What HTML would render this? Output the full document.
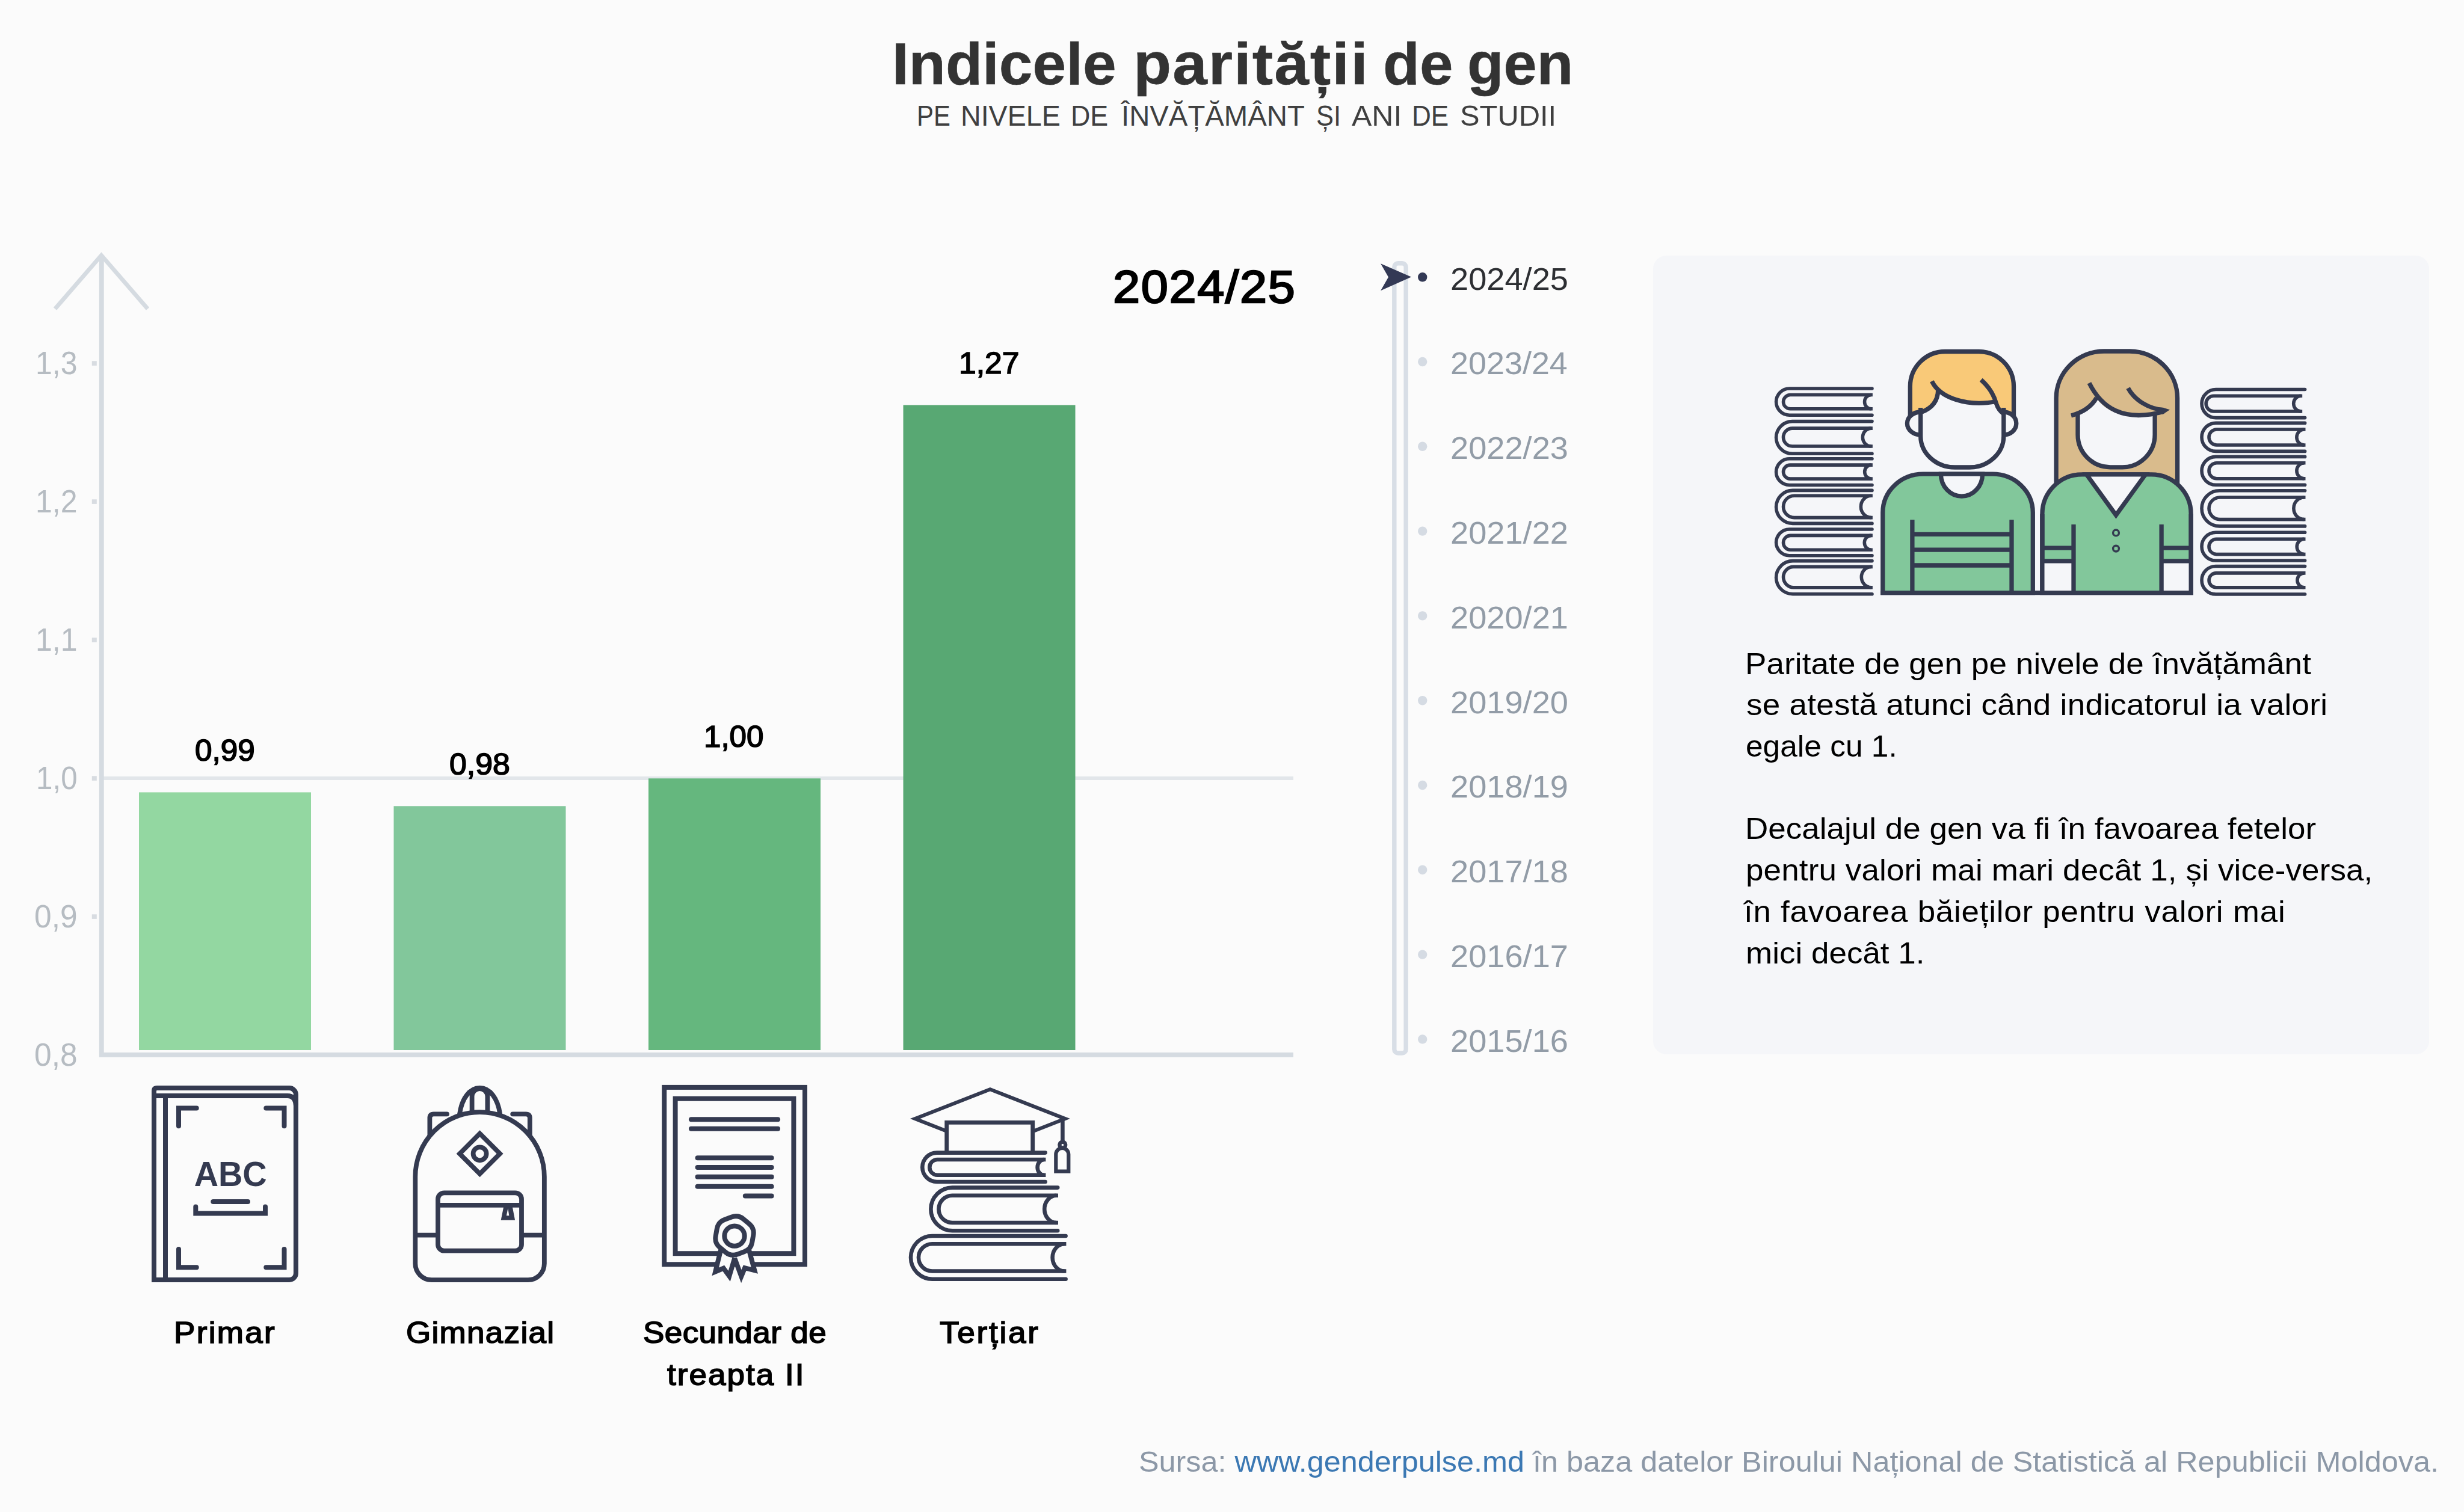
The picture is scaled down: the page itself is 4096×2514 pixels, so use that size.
<!DOCTYPE html>
<html lang="ro"><head><meta charset="utf-8">
<title>Indicele parității de gen</title>
<style>
html,body{margin:0;padding:0}
body{width:4096px;height:2514px;background:#fbfbfb;position:relative;overflow:hidden;font-family:"Liberation Sans",sans-serif;color:#000}
.abs{position:absolute;display:block}
.t{position:absolute;white-space:nowrap;margin:0;padding:0;font-weight:normal;display:block}
.grp{position:absolute;left:0;top:0;margin:0;padding:0;font-size:0;font-weight:normal;list-style:none}
.panel{position:absolute;left:2748px;top:425px;width:1290px;height:1328px;border-radius:22px;background:#f5f6f9}
a{color:inherit;text-decoration:none}
</style></head><body>
<div class="panel"></div>
<svg class="abs" style="left:0;top:0" width="4096" height="2514" viewBox="0 0 4096 2514">
<rect x="168" y="1291" width="1982" height="6" fill="#e2e6ea"/>
<rect x="231" y="1317.4" width="286" height="428.6" fill="#93d7a1"/>
<rect x="654.5" y="1340.3" width="286" height="405.7" fill="#82c79b"/>
<rect x="1078" y="1294.3" width="286" height="451.7" fill="#65b77e"/>
<rect x="1501.5" y="673.5" width="286" height="1072.5" fill="#58a873"/>
<path d="M168.8 424 V1753.9 H2150" fill="none" stroke="#d5dbe1" stroke-width="7.8"/>
<path d="M91.5 513.5 L168.5 424.5 L245.5 513.5" fill="none" stroke="#d5dbe1" stroke-width="7" stroke-linejoin="miter"/>
<rect x="152.8" y="1520.3" width="8" height="7.6" fill="#d8dce1"/>
<rect x="152.8" y="1290.3" width="8" height="7.6" fill="#d8dce1"/>
<rect x="152.8" y="1060.3" width="8" height="7.6" fill="#d8dce1"/>
<rect x="152.8" y="830.3" width="8" height="7.6" fill="#d8dce1"/>
<rect x="152.8" y="600.3" width="8" height="7.6" fill="#d8dce1"/>
<rect x="2317.8" y="437.7" width="19.3" height="1313.3" rx="6.2" fill="none" stroke="#d8dee6" stroke-width="7.4"/>
<path d="M2295.1 438.3 L2346.1 460.6 L2295.1 483.2 L2308 460.7 Z" fill="#333955"/>
<circle cx="2364.7" cy="460.7" r="7.7" fill="#333955"/>
<circle cx="2364.7" cy="601.5" r="7.7" fill="#d5dbe3"/>
<circle cx="2364.7" cy="742.3" r="7.7" fill="#d5dbe3"/>
<circle cx="2364.7" cy="883.1" r="7.7" fill="#d5dbe3"/>
<circle cx="2364.7" cy="1023.9" r="7.7" fill="#d5dbe3"/>
<circle cx="2364.7" cy="1164.7" r="7.7" fill="#d5dbe3"/>
<circle cx="2364.7" cy="1305.5" r="7.7" fill="#d5dbe3"/>
<circle cx="2364.7" cy="1446.3" r="7.7" fill="#d5dbe3"/>
<circle cx="2364.7" cy="1587.1" r="7.7" fill="#d5dbe3"/>
<circle cx="2364.7" cy="1727.9" r="7.7" fill="#d5dbe3"/>
</svg>
<svg class="abs" style="left:2900px;top:560px" width="1000" height="450" viewBox="2900 560 1000 450">
<path d="M3112 646.00 H2974.70 A22.100 22.100 0 0 0 2974.70 690.20 H3112" fill="none" stroke="#343a50" stroke-width="5.6" stroke-linecap="round"/>
<path d="M3112.9 656.50 H2976.15 A11.650 11.650 0 0 0 2976.15 679.80 H3112.9" fill="none" stroke="#343a50" stroke-width="5.6"/>
<path d="M3110.60 656.50 A11.067 11.650 0 0 0 3110.60 679.80" fill="none" stroke="#343a50" stroke-width="5.6"/>
<path d="M3112 700.60 H2979.45 A26.850 26.850 0 0 0 2979.45 754.30 H3112" fill="none" stroke="#343a50" stroke-width="5.6" stroke-linecap="round"/>
<path d="M3112.9 712.10 H2979.45 A14.950 14.950 0 0 0 2979.45 742.00 H3112.9" fill="none" stroke="#343a50" stroke-width="5.6"/>
<path d="M3110.60 712.10 A14.202 14.950 0 0 0 3110.60 742.00" fill="none" stroke="#343a50" stroke-width="5.6"/>
<path d="M3112 762.80 H2974.45 A21.850 21.850 0 0 0 2974.45 806.50 H3112" fill="none" stroke="#343a50" stroke-width="5.6" stroke-linecap="round"/>
<path d="M3112.9 773.10 H2976.00 A11.500 11.500 0 0 0 2976.00 796.10 H3112.9" fill="none" stroke="#343a50" stroke-width="5.6"/>
<path d="M3110.60 773.10 A10.925 11.500 0 0 0 3110.60 796.10" fill="none" stroke="#343a50" stroke-width="5.6"/>
<path d="M3112 815.40 H2980.10 A27.500 27.500 0 0 0 2980.10 870.40 H3112" fill="none" stroke="#343a50" stroke-width="5.6" stroke-linecap="round"/>
<path d="M3112.9 824.30 H2982.65 A18.150 18.150 0 0 0 2982.65 860.60 H3112.9" fill="none" stroke="#343a50" stroke-width="5.6"/>
<path d="M3110.60 824.30 A17.243 18.150 0 0 0 3110.60 860.60" fill="none" stroke="#343a50" stroke-width="5.6"/>
<path d="M3112 880.00 H2974.45 A21.850 21.850 0 0 0 2974.45 923.70 H3112" fill="none" stroke="#343a50" stroke-width="5.6" stroke-linecap="round"/>
<path d="M3112.9 890.40 H2976.40 A11.900 11.900 0 0 0 2976.40 914.20 H3112.9" fill="none" stroke="#343a50" stroke-width="5.6"/>
<path d="M3110.60 890.40 A11.305 11.900 0 0 0 3110.60 914.20" fill="none" stroke="#343a50" stroke-width="5.6"/>
<path d="M3112 932.60 H2980.15 A27.550 27.550 0 0 0 2980.15 987.70 H3112" fill="none" stroke="#343a50" stroke-width="5.6" stroke-linecap="round"/>
<path d="M3112.9 942.40 H2981.65 A17.150 17.150 0 0 0 2981.65 976.70 H3112.9" fill="none" stroke="#343a50" stroke-width="5.6"/>
<path d="M3110.60 942.40 A16.293 17.150 0 0 0 3110.60 976.70" fill="none" stroke="#343a50" stroke-width="5.6"/>
<path d="M3831.6 647.50 H3683.55 A23.550 23.550 0 0 0 3683.55 694.60 H3831.6" fill="none" stroke="#343a50" stroke-width="5.6" stroke-linecap="round"/>
<path d="M3827.2 658.20 H3680.00 A12.900 12.900 0 0 0 3680.00 684.00 H3827.2" fill="none" stroke="#343a50" stroke-width="5.6"/>
<path d="M3824.90 658.20 A12.255 12.900 0 0 0 3824.90 684.00" fill="none" stroke="#343a50" stroke-width="5.6"/>
<path d="M3831.6 703.40 H3683.50 A23.500 23.500 0 0 0 3683.50 750.40 H3831.6" fill="none" stroke="#343a50" stroke-width="5.6" stroke-linecap="round"/>
<path d="M3832.5 714.00 H3685.00 A13.000 13.000 0 0 0 3685.00 740.00 H3832.5" fill="none" stroke="#343a50" stroke-width="5.6"/>
<path d="M3830.20 714.00 A12.350 13.000 0 0 0 3830.20 740.00" fill="none" stroke="#343a50" stroke-width="5.6"/>
<path d="M3831.6 759.40 H3683.45 A23.450 23.450 0 0 0 3683.45 806.30 H3831.6" fill="none" stroke="#343a50" stroke-width="5.6" stroke-linecap="round"/>
<path d="M3832.5 769.80 H3684.95 A12.950 12.950 0 0 0 3684.95 795.70 H3832.5" fill="none" stroke="#343a50" stroke-width="5.6"/>
<path d="M3830.20 769.80 A12.303 12.950 0 0 0 3830.20 795.70" fill="none" stroke="#343a50" stroke-width="5.6"/>
<path d="M3831.6 815.80 H3689.55 A29.550 29.550 0 0 0 3689.55 874.90 H3831.6" fill="none" stroke="#343a50" stroke-width="5.6" stroke-linecap="round"/>
<path d="M3832.5 827.00 H3690.30 A18.300 18.300 0 0 0 3690.30 863.60 H3832.5" fill="none" stroke="#343a50" stroke-width="5.6"/>
<path d="M3830.20 827.00 A17.385 18.300 0 0 0 3830.20 863.60" fill="none" stroke="#343a50" stroke-width="5.6"/>
<path d="M3831.6 885.30 H3683.35 A23.350 23.350 0 0 0 3683.35 932.00 H3831.6" fill="none" stroke="#343a50" stroke-width="5.6" stroke-linecap="round"/>
<path d="M3832.5 896.30 H3684.65 A12.650 12.650 0 0 0 3684.65 921.60 H3832.5" fill="none" stroke="#343a50" stroke-width="5.6"/>
<path d="M3830.20 896.30 A12.018 12.650 0 0 0 3830.20 921.60" fill="none" stroke="#343a50" stroke-width="5.6"/>
<path d="M3831.6 941.50 H3683.25 A23.250 23.250 0 0 0 3683.25 988.00 H3831.6" fill="none" stroke="#343a50" stroke-width="5.6" stroke-linecap="round"/>
<path d="M3832.5 952.90 H3683.90 A11.900 11.900 0 0 0 3683.90 976.70 H3832.5" fill="none" stroke="#343a50" stroke-width="5.6"/>
<path d="M3830.20 952.90 A11.305 11.900 0 0 0 3830.20 976.70" fill="none" stroke="#343a50" stroke-width="5.6"/>
<path d="M3418.1 830 V662 A79.5 78 0 0 1 3497.6 584 H3540.1 A79.5 78 0 0 1 3619.6 662 V830 Z" fill="#d9bb8c" stroke="#343a50" stroke-width="7.3"/>
<path d="M3454 688 Q3472.7 682.9 3485.2 661.3 C3493.1 677.1 3528 703 3582.1 687 V722.8 A54 54 0 0 1 3528.1 776.8 H3508 A54 54 0 0 1 3454 722.8 Z" fill="#f5f6f9"/>
<path d="M3454 688 V722.8 A54 54 0 0 0 3508 776.8 H3528.1 A54 54 0 0 0 3582.1 722.8 V686" fill="none" stroke="#343a50" stroke-width="7.3"/>
<path d="M3473 636.9 C3493.1 677.1 3528 703 3597 684.3" fill="none" stroke="#343a50" stroke-width="7.3"/>
<path d="M3485.2 661.3 Q3472.7 682.9 3443 690.9" fill="none" stroke="#343a50" stroke-width="7.3"/>
<path d="M3537.6 645.3 C3548 665 3572 680 3597 681.6" fill="none" stroke="#343a50" stroke-width="7.3"/>
<path d="M3588 677.4 L3596.5 677.9 L3607 681.3 L3596 688.4 L3588 689.5 Z" fill="#343a50"/>
<path d="M3394.9 985.6 V855 A66 66 0 0 1 3460.9 788.9 H3576.2 A66 66 0 0 1 3642.2 855 V985.6 Z" fill="#82c79b" stroke="#343a50" stroke-width="7.3"/>
<rect x="3394.9" y="932.9" width="52.1" height="52.7" fill="#f5f6f9"/>
<rect x="3593.1" y="932.9" width="49.1" height="52.7" fill="#f5f6f9"/>
<path d="M3468.5 788.9 L3517.5 856.5 L3566.5 788.9 Z" fill="#f5f6f9" stroke="#343a50" stroke-width="7.3" stroke-miterlimit="10"/>
<path d="M3447 872 V985.6 M3593.1 872 V985.6 M3394.9 911.2 H3447 M3394.9 932.9 H3447 M3593.1 911.2 H3642.2 M3593.1 932.9 H3642.2" fill="none" stroke="#343a50" stroke-width="7.3"/>
<path d="M3394.9 855 V985.6 M3642.2 855 V985.6" fill="none" stroke="#343a50" stroke-width="7.3"/>
<circle cx="3517.5" cy="885.9" r="4.9" fill="none" stroke="#343a50" stroke-width="3.4"/>
<circle cx="3517.5" cy="912.1" r="4.9" fill="none" stroke="#343a50" stroke-width="3.4"/>
<path d="M3175.3 692 V642.5 A58 58 0 0 1 3233.3 584.5 H3289.5 A58 58 0 0 1 3347.5 642.5 V692 Z" fill="#f9c978"/>
<ellipse cx="3192.7" cy="704" rx="22.3" ry="19" fill="#f5f6f9" stroke="#343a50" stroke-width="7.3"/>
<ellipse cx="3330.8" cy="704" rx="21" ry="19" fill="#f5f6f9" stroke="#343a50" stroke-width="7.3"/>
<path d="M3175.3 692 V642.5 A58 58 0 0 1 3233.3 584.5 H3289.5 A58 58 0 0 1 3347.5 642.5 V692" fill="none" stroke="#343a50" stroke-width="7.3"/>
<path d="M3192.7 685 Q3221.3 675 3221.7 648.9 C3232 664 3270 677 3314 668.8 Q3319.4 684 3330.8 688 V725 A57 52 0 0 1 3273.8 777 H3249.7 A57 52 0 0 1 3192.7 725 Z" fill="#f5f6f9"/>
<path d="M3192.7 678 V725 A57 52 0 0 0 3249.7 777 H3273.8 A57 52 0 0 0 3330.8 725 V678" fill="none" stroke="#343a50" stroke-width="7.3"/>
<path d="M3211.4 633.8 C3225 662 3270 676 3316 668" fill="none" stroke="#343a50" stroke-width="7.3"/>
<path d="M3221.7 648.9 Q3221.3 675 3194 685.4" fill="none" stroke="#343a50" stroke-width="7.3"/>
<path d="M3293.2 631.4 Q3312 648 3318.5 671 Q3322 682 3330.5 688" fill="none" stroke="#343a50" stroke-width="7.3"/>
<path d="M3129.8 985.6 V852 A67 64 0 0 1 3196.8 788.2 H3312.3 A67 64 0 0 1 3379.3 852 V985.6 Z" fill="#82c79b" stroke="#343a50" stroke-width="7.3"/>
<path d="M3226.4 788.2 A34.6 37 0 0 0 3295.6 788.2 Z" fill="#f5f6f9" stroke="#343a50" stroke-width="7.3"/>
<path d="M3178.9 864.2 V985.6 M3344 864.2 V985.6 M3178.9 888.3 H3344 M3178.9 914.2 H3344 M3178.9 940 H3344" fill="none" stroke="#343a50" stroke-width="7.3"/>
<path d="M3126.3 985.6 H3645.8" fill="none" stroke="#343a50" stroke-width="7.3"/>
</svg>
<svg class="abs" style="left:0;top:1780px" width="1900" height="400" viewBox="0 1780 1900 400">
<path d="M256 2128 V1814.1 Q256 1809.1 261 1809.1 H480.9 A11 11 0 0 1 491.9 1820.1 V2117 A11 11 0 0 1 480.9 2128 Z" fill="none" stroke="#343a50" stroke-width="8" stroke-linejoin="miter"/>
<path d="M256 1822 H477.9 Q490.9 1822 491.9 1838" fill="none" stroke="#343a50" stroke-width="8"/>
<path d="M275 1822 V2128" fill="none" stroke="#343a50" stroke-width="8"/>
<g fill="none" stroke="#343a50" stroke-width="8" stroke-linecap="round" stroke-linejoin="miter">
<path d="M297 1872.3 V1842.4 H326.7"/>
<path d="M442.3 1842.4 H472.5 V1872.3"/>
<path d="M297 2076.9 V2107.2 H326.7"/>
<path d="M442.3 2107.2 H472.5 V2076.9"/>
<path d="M354.3 1998.1 H412"/>
<path d="M325.3 2006.5 V2017.6 H441 V2006.5"/>
</g>
<text x="383.2" y="1971.7" text-anchor="middle" font-family="Liberation Sans, sans-serif" font-weight="bold" font-size="56.7" fill="#343a50" textLength="121" lengthAdjust="spacingAndGlyphs">ABC</text>
<path d="M763.9 1853 C767.5 1826 781 1809 797.6 1809 C814.2 1809 827.7 1826 831.3 1853" fill="none" stroke="#343a50" stroke-width="7.8"/>
<path d="M784.6 1852 V1823 A12.9 12.9 0 0 1 810.4 1823 V1852" fill="none" stroke="#343a50" stroke-width="7.8"/>
<path d="M714.4 1896 V1859 Q714.4 1852.3 721 1852.3 H743" fill="none" stroke="#343a50" stroke-width="7.8" stroke-linecap="round"/>
<path d="M880.8 1896 V1859 Q880.8 1852.3 874.2 1852.3 H852.2" fill="none" stroke="#343a50" stroke-width="7.8" stroke-linecap="round"/>
<path d="M690.35 1956.4 A107.25 107.25 0 0 1 904.85 1956.4 V2101.1 A27 27 0 0 1 877.85 2128.1 H717.35 A27 27 0 0 1 690.35 2101.1 Z" fill="#fbfbfb" stroke="#343a50" stroke-width="7.8"/>
<path d="M690.35 2053.7 H728 M867 2053.7 H904.85" fill="none" stroke="#343a50" stroke-width="7.8"/>
<rect x="728" y="1983.3" width="139" height="96.4" rx="10.5" fill="none" stroke="#343a50" stroke-width="7.8"/>
<path d="M728 2003.9 H867" fill="none" stroke="#343a50" stroke-width="7.8"/>
<path d="M837.3 2006 L832.7 2028.7 H856.1 L851.7 2006 Z" fill="#343a50"/>
<path d="M844.4 2009 L841.9 2021.3 H846.3 Z" fill="#fbfbfb"/>
<path d="M797.6 1884.8 L831.1 1918.3 L797.6 1951.8 L764.1 1918.3 Z" fill="none" stroke="#343a50" stroke-width="7.8"/>
<circle cx="797.6" cy="1918.3" r="11" fill="none" stroke="#343a50" stroke-width="7.8"/>
<rect x="1104.2" y="1807.9" width="233.8" height="294.4" fill="none" stroke="#343a50" stroke-width="8"/>
<rect x="1122.6" y="1826.7" width="196.8" height="257.5" fill="none" stroke="#343a50" stroke-width="8"/>
<g fill="none" stroke="#343a50" stroke-width="8" stroke-linecap="round">
<path d="M1149 1861.2 H1293"/>
<path d="M1149 1876.8 H1293"/>
<path d="M1159.6 1925.3 H1282.6"/>
<path d="M1159.6 1941.1 H1282.6"/>
<path d="M1159.6 1956.7 H1282.6"/>
<path d="M1159.6 1972.8 H1282.6"/>
<path d="M1238.8 1988.6 H1282.6"/>
</g>
<path d="M1198.7 2076 L1189.2 2114.4 L1202.7 2108.7 L1212.3 2121.9 L1221.2 2092" fill="#fbfbfb" stroke="#343a50" stroke-width="8" stroke-miterlimit="10"/>
<path d="M1244.4 2076 L1254.3 2112.3 L1238.1 2108.2 L1232.3 2122.3 L1221.2 2092" fill="#fbfbfb" stroke="#343a50" stroke-width="8" stroke-miterlimit="10"/>
<path d="M1216.2 2023.5 Q1227.2 2019.5 1236.1 2027.1 L1245.4 2034.8 Q1254.4 2042.4 1252.3 2053.9 L1250.2 2065.8 Q1248.2 2077.3 1237.2 2081.3 L1225.8 2085.5 Q1214.8 2089.5 1205.9 2081.9 L1196.6 2074.2 Q1187.6 2066.6 1189.7 2055.1 L1191.8 2043.2 Q1193.8 2031.7 1204.8 2027.7 Z" fill="#fbfbfb" stroke="#343a50" stroke-width="8" stroke-linejoin="round"/>
<circle cx="1221" cy="2055.1" r="16.7" fill="none" stroke="#343a50" stroke-width="8"/>
<path d="M1521.1 1860.1 L1645.9 1811.1 L1770.7 1860.1 L1645.9 1909.1 Z" fill="none" stroke="#343a50" stroke-width="6" stroke-miterlimit="10"/>
<path d="M1573.7 1916 V1866.4 H1716.7 V1916" fill="#fbfbfb" stroke="#343a50" stroke-width="6.8"/>
<path d="M1766.4 1862 V1900" fill="none" stroke="#343a50" stroke-width="6.6"/>
<circle cx="1766.3" cy="1903.6" r="8.1" fill="#343a50"/>
<rect x="1764.8" y="1902" width="3.1" height="3.2" fill="#fbfbfb"/>
<path d="M1755.3 1947.6 V1919.4 A10.5 10.5 0 0 1 1776.3 1919.4 V1947.6 Z" fill="#fbfbfb" stroke="#343a50" stroke-width="6.2"/>
<path d="M1737.6 1916.60 H1557.50 A24.200 24.200 0 0 0 1557.50 1965.00 H1737.6" fill="none" stroke="#343a50" stroke-width="6.6" stroke-linecap="round"/>
<path d="M1738.4 1928.00 H1558.20 A12.900 12.900 0 0 0 1558.20 1953.80 H1738.4" fill="none" stroke="#343a50" stroke-width="6.6" stroke-linecap="butt"/><path d="M1735.60 1928.00 A11.000 12.900 0 0 0 1735.60 1953.80" fill="none" stroke="#343a50" stroke-width="6.6"/>
<path d="M1758.2 1974.60 H1583.20 A35.800 35.800 0 0 0 1583.20 2046.20 H1758.2" fill="none" stroke="#343a50" stroke-width="6.6" stroke-linecap="round"/>
<path d="M1759 1987.80 H1583.00 A22.600 22.600 0 0 0 1583.00 2033.00 H1759" fill="none" stroke="#343a50" stroke-width="6.6" stroke-linecap="butt"/><path d="M1756.20 1987.80 A20.000 22.600 0 0 0 1756.20 2033.00" fill="none" stroke="#343a50" stroke-width="6.6"/>
<path d="M1771.6 2055.00 H1549.80 A35.850 35.850 0 0 0 1549.80 2126.70 H1771.6" fill="none" stroke="#343a50" stroke-width="6.6" stroke-linecap="round"/>
<path d="M1772.4 2068.20 H1549.60 A22.650 22.650 0 0 0 1549.60 2113.50 H1772.4" fill="none" stroke="#343a50" stroke-width="6.6" stroke-linecap="butt"/><path d="M1769.60 2068.20 A20.000 22.650 0 0 0 1769.60 2113.50" fill="none" stroke="#343a50" stroke-width="6.6"/>
</svg>
<h1 class="grp">
<span class="t" id="title0" style="left:1483.25px;top:51.80px;font-size:97.5px;line-height:109px;color:#333333;font-weight:bold;transform:scaleX(1.0263);transform-origin:0 0;-webkit-text-stroke:0.6px #333;">Indicele</span> 
<span class="t" id="title1" style="left:1883.61px;top:51.80px;font-size:97.5px;line-height:109px;color:#333333;letter-spacing:1.953px;font-weight:bold;transform:scaleX(1.06);transform-origin:0 0;-webkit-text-stroke:0.6px #333;">parității</span> 
<span class="t" id="title2" style="left:2298.91px;top:51.80px;font-size:97.5px;line-height:109px;color:#333333;font-weight:bold;transform:scaleX(1.0234);transform-origin:0 0;-webkit-text-stroke:0.6px #333;">de</span> 
<span class="t" id="title3" style="left:2438.55px;top:51.80px;font-size:97.5px;line-height:109px;color:#333333;font-weight:bold;transform:scaleX(1.0165);transform-origin:0 0;-webkit-text-stroke:0.6px #333;">gen</span> 
</h1>
<div class="grp">
<span class="t" id="sub0" style="left:1523.51px;top:166.30px;font-size:48px;line-height:53px;color:#3f3f3f;transform:scaleX(0.8724);transform-origin:0 0;">PE</span> 
<span class="t" id="sub1" style="left:1596.52px;top:166.30px;font-size:48px;line-height:53px;color:#3f3f3f;transform:scaleX(0.9713);transform-origin:0 0;">NIVELE</span> 
<span class="t" id="sub2" style="left:1779.88px;top:166.30px;font-size:48px;line-height:53px;color:#3f3f3f;transform:scaleX(0.9333);transform-origin:0 0;">DE</span> 
<span class="t" id="sub3" style="left:1863.99px;top:166.30px;font-size:48px;line-height:53px;color:#3f3f3f;transform:scaleX(0.9856);transform-origin:0 0;">ÎNVĂȚĂMÂNT</span> 
<span class="t" id="sub4" style="left:2187.62px;top:166.30px;font-size:48px;line-height:53px;color:#3f3f3f;transform:scaleX(0.9051);transform-origin:0 0;">ȘI</span> 
<span class="t" id="sub5" style="left:2247.00px;top:166.30px;font-size:48px;line-height:53px;color:#3f3f3f;transform:scaleX(1.0408);transform-origin:0 0;">ANI</span> 
<span class="t" id="sub6" style="left:2347.10px;top:166.30px;font-size:48px;line-height:53px;color:#3f3f3f;transform:scaleX(0.918);transform-origin:0 0;">DE</span> 
<span class="t" id="sub7" style="left:2426.56px;top:166.30px;font-size:48px;line-height:53px;color:#3f3f3f;transform:scaleX(1.0179);transform-origin:0 0;">STUDII</span> 
</div>
<div class="grp">
<span class="t" id="y0" style="left:59.47px;top:572.80px;font-size:53.8px;line-height:60px;color:#b6bcc2;transform:scaleX(0.9309);transform-origin:0 0;">1,3</span> 
<span class="t" id="y1" style="left:59.47px;top:802.80px;font-size:53.8px;line-height:60px;color:#b6bcc2;transform:scaleX(0.9309);transform-origin:0 0;">1,2</span> 
<span class="t" id="y2" style="left:59.47px;top:1032.80px;font-size:53.8px;line-height:60px;color:#b6bcc2;transform:scaleX(0.9309);transform-origin:0 0;">1,1</span> 
<span class="t" id="y3" style="left:59.52px;top:1262.80px;font-size:53.8px;line-height:60px;color:#b6bcc2;transform:scaleX(0.9174);transform-origin:0 0;">1,0</span> 
<span class="t" id="y4" style="left:56.91px;top:1492.80px;font-size:53.8px;line-height:60px;color:#b6bcc2;transform:scaleX(0.9571);transform-origin:0 0;">0,9</span> 
<span class="t" id="y5" style="left:56.91px;top:1722.80px;font-size:53.8px;line-height:60px;color:#b6bcc2;transform:scaleX(0.9571);transform-origin:0 0;">0,8</span> 
</div>
<div class="grp">
<span class="t" id="v0" style="left:323.82px;top:1220.00px;font-size:50px;line-height:56px;color:#000;transform:scaleX(1.0247);transform-origin:0 0;-webkit-text-stroke:1.65px #000;">0,99</span> 
<span class="t" id="v1" style="left:746.80px;top:1242.90px;font-size:50px;line-height:56px;color:#000;transform:scaleX(1.0356);transform-origin:0 0;-webkit-text-stroke:1.65px #000;">0,98</span> 
<span class="t" id="v2" style="left:1170.15px;top:1196.90px;font-size:50px;line-height:56px;color:#000;transform:scaleX(1.0213);transform-origin:0 0;-webkit-text-stroke:1.65px #000;">1,00</span> 
<span class="t" id="v3" style="left:1593.92px;top:576.10px;font-size:50px;line-height:56px;color:#000;transform:scaleX(1.0323);transform-origin:0 0;-webkit-text-stroke:1.65px #000;">1,27</span> 
</div>
<div class="t" id="year" style="left:1850.23px;top:433.60px;font-size:76.5px;line-height:85px;color:#000;letter-spacing:1.522px;transform:scaleX(1.06);transform-origin:0 0;-webkit-text-stroke:2.4px #000;">2024/25</div>
<ul class="grp">
<li class="t" id="yr0" style="left:2410.65px;top:435.50px;font-size:51.2px;line-height:57px;color:#2d2f33;transform:scaleX(1.0589);transform-origin:0 0;">2024/25</li> 
<li class="t" id="yr1" style="left:2410.66px;top:576.30px;font-size:51.2px;line-height:57px;color:#929ca7;transform:scaleX(1.053);transform-origin:0 0;">2023/24</li> 
<li class="t" id="yr2" style="left:2410.65px;top:717.10px;font-size:51.2px;line-height:57px;color:#929ca7;transform:scaleX(1.0589);transform-origin:0 0;">2022/23</li> 
<li class="t" id="yr3" style="left:2410.65px;top:857.90px;font-size:51.2px;line-height:57px;color:#929ca7;transform:scaleX(1.0589);transform-origin:0 0;">2021/22</li> 
<li class="t" id="yr4" style="left:2410.65px;top:998.70px;font-size:51.2px;line-height:57px;color:#929ca7;transform:scaleX(1.0589);transform-origin:0 0;">2020/21</li> 
<li class="t" id="yr5" style="left:2410.65px;top:1139.50px;font-size:51.2px;line-height:57px;color:#929ca7;transform:scaleX(1.0589);transform-origin:0 0;">2019/20</li> 
<li class="t" id="yr6" style="left:2410.65px;top:1280.30px;font-size:51.2px;line-height:57px;color:#929ca7;transform:scaleX(1.0589);transform-origin:0 0;">2018/19</li> 
<li class="t" id="yr7" style="left:2410.65px;top:1421.10px;font-size:51.2px;line-height:57px;color:#929ca7;transform:scaleX(1.0589);transform-origin:0 0;">2017/18</li> 
<li class="t" id="yr8" style="left:2410.65px;top:1561.90px;font-size:51.2px;line-height:57px;color:#929ca7;transform:scaleX(1.0589);transform-origin:0 0;">2016/17</li> 
<li class="t" id="yr9" style="left:2410.65px;top:1702.70px;font-size:51.2px;line-height:57px;color:#929ca7;transform:scaleX(1.0589);transform-origin:0 0;">2015/16</li> 
</ul>
<div class="grp">
<span class="t" id="p0" style="left:2900.97px;top:1075.50px;font-size:50px;line-height:56px;color:#000;letter-spacing:0.097px;transform:scaleX(1.06);transform-origin:0 0;">Paritate de gen pe nivele de învățământ</span> 
<span class="t" id="p1" style="left:2902.53px;top:1144.10px;font-size:50px;line-height:56px;color:#000;letter-spacing:0.257px;transform:scaleX(1.06);transform-origin:0 0;">se atestă atunci când indicatorul ia valori</span> 
<span class="t" id="p2" style="left:2901.54px;top:1212.70px;font-size:50px;line-height:56px;color:#000;transform:scaleX(1.029);transform-origin:0 0;">egale cu 1.</span> 
<span class="t" id="p3" style="left:2900.76px;top:1349.70px;font-size:50px;line-height:56px;color:#000;letter-spacing:0.009px;transform:scaleX(1.06);transform-origin:0 0;">Decalajul de gen va fi în favoarea fetelor</span> 
<span class="t" id="p4" style="left:2901.82px;top:1418.70px;font-size:50px;line-height:56px;color:#000;letter-spacing:0.116px;transform:scaleX(1.06);transform-origin:0 0;">pentru valori mai mari decât 1, și vice-versa,</span> 
<span class="t" id="p5" style="left:2899.41px;top:1487.70px;font-size:50px;line-height:56px;color:#000;letter-spacing:0.687px;transform:scaleX(1.06);transform-origin:0 0;">în favoarea băieților pentru valori mai</span> 
<span class="t" id="p6" style="left:2901.82px;top:1556.70px;font-size:50px;line-height:56px;color:#000;letter-spacing:0.002px;transform:scaleX(1.06);transform-origin:0 0;">mici decât 1.</span> 
</div>
<div class="grp">
<span class="t" id="l0" style="left:288.51px;top:2188.20px;font-size:50px;line-height:56px;color:#000;letter-spacing:2.200px;transform:scaleX(1.06);transform-origin:0 0;-webkit-text-stroke:1.65px #000;">Primar</span> 
<span class="t" id="l1" style="left:675.40px;top:2188.20px;font-size:50px;line-height:56px;color:#000;letter-spacing:1.229px;transform:scaleX(1.06);transform-origin:0 0;-webkit-text-stroke:1.65px #000;">Gimnazial</span> 
<span class="t" id="l2" style="left:1068.94px;top:2188.20px;font-size:50px;line-height:56px;color:#000;letter-spacing:0.391px;transform:scaleX(1.06);transform-origin:0 0;-webkit-text-stroke:1.65px #000;">Secundar de</span> 
<span class="t" id="l3" style="left:1109.00px;top:2258.30px;font-size:50px;line-height:56px;color:#000;letter-spacing:1.925px;transform:scaleX(1.06);transform-origin:0 0;-webkit-text-stroke:1.65px #000;">treapta II</span> 
<span class="t" id="l4" style="left:1562.00px;top:2188.20px;font-size:50px;line-height:56px;color:#000;letter-spacing:2.619px;transform:scaleX(1.06);transform-origin:0 0;-webkit-text-stroke:1.65px #000;">Terțiar</span> 
</div>
<div class="t" id="foot" style="left:1892.85px;top:2403.70px;font-size:48px;line-height:53px;color:#8c98a7;transform:scaleX(1.0491);transform-origin:0 0;">Sursa: <span style="color:#3b78b3">www.genderpulse.md</span> în baza datelor Biroului Național de Statistică al Republicii Moldova.</div>
</body></html>
